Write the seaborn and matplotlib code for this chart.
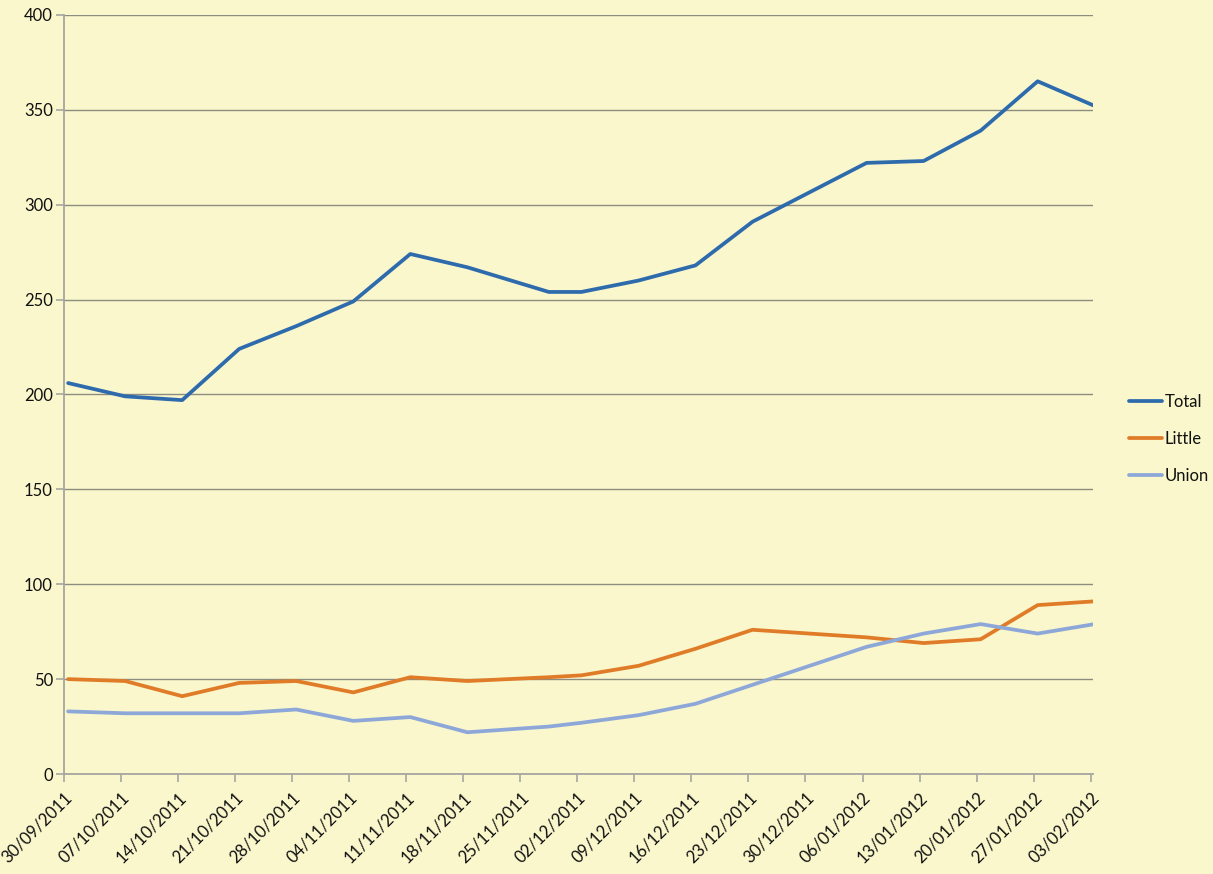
import pandas as pd
import numpy as np
import matplotlib
matplotlib.use("Agg")
import matplotlib.pyplot as plt
import matplotlib.dates as mdates
import seaborn as sns

# weekly counts (no reading on 25/11 or 30/12, extra one on 28/11)
dates = ["30/09/2011", "07/10/2011", "14/10/2011", "21/10/2011", "28/10/2011",
         "04/11/2011", "11/11/2011", "18/11/2011", "28/11/2011", "02/12/2011",
         "09/12/2011", "16/12/2011", "23/12/2011", "06/01/2012", "13/01/2012",
         "20/01/2012", "27/01/2012", "03/02/2012"]
total = [206, 199, 197, 224, 236, 249, 274, 267, 254, 254, 260, 268, 291, 322, 323, 339, 365, 352]
little = [50, 49, 41, 48, 49, 43, 51, 49, 51, 52, 57, 66, 76, 72, 69, 71, 89, 91]
union = [33, 32, 32, 32, 34, 28, 30, 22, 25, 27, 31, 37, 47, 67, 74, 79, 74, 79]

series_names = ["Total", "Little", "Union"]
colors = ["#2E6BAD", "#E07B28", "#8DA8D8"]
tick_start, tick_end = "30/09/2011", "03/02/2012"

BG = "#FAF7CC"

df = pd.DataFrame({"date": pd.to_datetime(dates, format="%d/%m/%Y"),
                   "Total": total, "Little": little, "Union": union})
# excel date axis puts each point in the middle of its day slot
df["date"] = df["date"] + pd.Timedelta(hours=12)
long = df.melt(id_vars="date", var_name="series", value_name="count")

sns.set_theme(style="white")
plt.rcParams["font.family"] = ["Lato", "DejaVu Sans"]

fig = plt.figure(figsize=(12.13, 8.74), dpi=100, facecolor=BG)
ax = fig.add_axes([0.0528, 0.1144, 0.848, 0.8686])
ax.set_facecolor(BG)

sns.lineplot(data=long, x="date", y="count", hue="series", hue_order=series_names,
             palette=colors, linewidth=2.7, ax=ax)

ticks = pd.date_range(pd.to_datetime(tick_start, format="%d/%m/%Y"),
                      pd.to_datetime(tick_end, format="%d/%m/%Y"), freq="7D")
ax.set_xticks(ticks)
ax.xaxis.set_major_formatter(mdates.DateFormatter("%d/%m/%Y"))
ax.set_xlim(ticks[0], ticks[-1] + pd.Timedelta(hours=6))
plt.setp(ax.get_xticklabels(), rotation=45, ha="right", rotation_mode="anchor")

ax.set_ylim(0, 400)
ax.set_yticks(np.arange(0, 401, 50))
ax.yaxis.grid(True, color="#8C8C80", linewidth=1.0)
ax.set_axisbelow(True)

for side in ["top", "right"]:
    ax.spines[side].set_visible(False)
for side in ["left", "bottom"]:
    ax.spines[side].set_color("#A6A6A0")
    ax.spines[side].set_linewidth(1.3)
ax.tick_params(axis="both", which="major", length=6, width=1.2, color="#A6A6A0",
               labelsize=12, labelcolor="#111111")
ax.tick_params(axis="x", bottom=True, pad=5)
ax.tick_params(axis="y", left=True, pad=2)

ax.set_xlabel("")
ax.set_ylabel("")

leg = ax.legend(loc="center left", bbox_to_anchor=(0.918, 0.498),
                bbox_transform=fig.transFigure, frameon=False, fontsize=12,
                handlelength=2.0, handletextpad=0.15, labelspacing=1.25)
for line in leg.get_lines():
    line.set_linewidth(2.7)
for txt in leg.get_texts():
    txt.set_color("#111111")

fig.savefig("out.png", dpi=100, facecolor=BG)
